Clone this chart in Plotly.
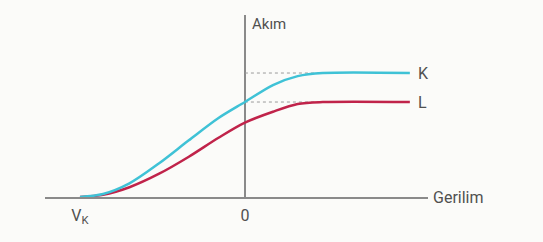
import plotly.graph_objects as go

# Data (voltage units, current units)
k_x = [-5.0, -4.3, -3.5, -2.6, -1.7, -0.8, 0.0, 0.85, 1.6, 2.36, 5.0]
k_y = [0.0, 0.24, 1.1, 2.72, 4.57, 6.37, 7.66, 9.03, 9.75, 10.0, 10.0]
l_x = [-5.0, -4.3, -3.5, -2.6, -1.7, -0.8, 0.0, 0.85, 1.6, 2.36, 5.0]
l_y = [0.0, 0.18, 0.79, 1.88, 3.25, 4.78, 6.0, 6.88, 7.5, 7.66, 7.66]
k_level = 10.0
l_level = 7.66
plateau_start = 2.36
tick_vals = [-5, 0]
tick_text = ["V<sub>K</sub>", "0"]

fig = go.Figure()
fig.add_trace(go.Scatter(x=[0, plateau_start], y=[k_level, k_level], mode="lines",
                         line=dict(color="#9a9a9a", width=1, dash="dot"), hoverinfo="skip"))
fig.add_trace(go.Scatter(x=[0, plateau_start], y=[l_level, l_level], mode="lines",
                         line=dict(color="#9a9a9a", width=1, dash="dot"), hoverinfo="skip"))
fig.add_trace(go.Scatter(x=l_x, y=l_y, mode="lines", line=dict(color="#c0234a", width=2.5, shape="spline", smoothing=0.9)))
fig.add_trace(go.Scatter(x=k_x, y=k_y, mode="lines", line=dict(color="#3fc2d6", width=2.5, shape="spline", smoothing=0.9)))

font_c = "#505050"
ff = "Roboto"
fig.add_annotation(x=5.0, y=k_level, xref="x", yref="y", text="K", showarrow=False,
                   xanchor="left", xshift=6, font=dict(size=16, color=font_c, family=ff))
fig.add_annotation(x=5.0, y=l_level, xref="x", yref="y", text="L", showarrow=False,
                   xanchor="left", xshift=6, font=dict(size=16, color=font_c, family=ff))
fig.add_annotation(x=1, y=0, xref="paper", yref="y", text="Gerilim", showarrow=False,
                   xanchor="left", xshift=3, font=dict(size=16, color=font_c, family=ff))
fig.add_annotation(x=0, y=1, xref="x", yref="paper", text="Akım", showarrow=False,
                   xanchor="left", yanchor="top", xshift=5, yshift=2, font=dict(size=15, color=font_c, family=ff))

fig.update_layout(
    width=543, height=242,
    margin=dict(l=45, r=115, t=15, b=45),
    paper_bgcolor="#fbfbf9", plot_bgcolor="#fbfbf9",
    showlegend=False,
    font=dict(family=ff, color=font_c),
    xaxis=dict(range=[-6.06, 5.55], showgrid=False, zeroline=True, zerolinecolor="#8a8a8a",
               zerolinewidth=1.5, showline=True, linecolor="#8a8a8a", linewidth=1.5,
               tickvals=tick_vals, ticktext=tick_text, ticks="", ticklabelstandoff=3,
               tickfont=dict(size=16, color=font_c, family=ff)),
    yaxis=dict(range=[0, 14.68], showgrid=False, zeroline=False, showline=False, showticklabels=False),
)
fig.write_html("out.html")
